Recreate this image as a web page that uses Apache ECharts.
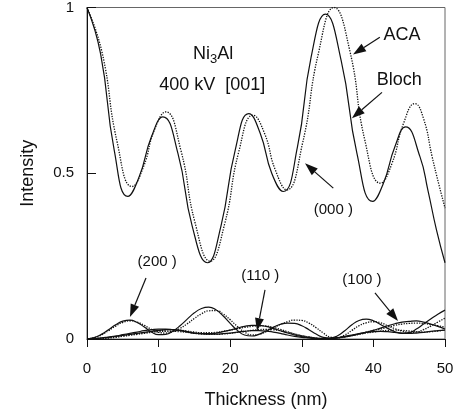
<!DOCTYPE html>
<html lang="en">
<head>
    <meta charset="UTF-8">
    <title>Ni3Al intensity</title>
    <style>
        html,body{margin:0;padding:0;background:#fff;}
        #chart{width:458px;height:417px;}
    </style>
</head>
<body>
<div id="chart"></div>
<script src="https://cdn.jsdelivr.net/npm/echarts@6/dist/echarts.min.js"></script>
<script>
    // thickness grid (nm) for the weak beams
    let thickness = [];
    for (let i = 0; i <= 50; i++) thickness.push(i);

    let xTicks = [0, 10, 20, 30, 40, 50];
    let yTicks = [0, 0.5, 1];

    // (000) beam, read at its turning points and between them
    let tBloch000 = [0,1.9,3.8,5.7,7.3,9.0,10.6,12.7,14.7,16.8,18.7,20.7,22.6,24.2,25.8,27.4,29.4,31.3,33.3,35.5,37.7,39.9,
        41.4,43.0,44.5,46.5,47.6,48.8,50];
    let bloch000 = [1.0,0.86,0.57,0.43,0.49,0.61,0.67,0.56,0.34,0.23,0.34,0.57,0.68,0.62,0.50,0.445,0.58,0.85,0.98,0.84,0.56,0.415,
        0.47,0.58,0.64,0.55,0.45,0.33,0.23];
    let tAca000 = [0,2.1,4.2,6.3,7.9,9.4,11.0,13.1,15.1,17.2,19.2,21.2,23.2,24.8,26.3,27.9,30.1,32.3,34.5,36.7,38.8,41.0,
        42.6,44.2,45.8,47.0,48.2,49.1,50];
    let aca000 = [1.0,0.865,0.595,0.46,0.52,0.63,0.685,0.57,0.35,0.235,0.345,0.565,0.675,0.62,0.51,0.45,0.59,0.86,1.0,0.87,0.60,0.47,
        0.53,0.65,0.71,0.665,0.55,0.47,0.395];

    // (200) beam
    let bloch200 = [0,0.004,0.014,0.028,0.043,0.054,0.057,0.05,0.036,0.021,0.013,0.014,0.024,0.04,0.06,0.079,0.092,0.096,0.088,0.07,
        0.047,0.026,0.012,0.009,0.014,0.024,0.035,0.044,0.048,0.047,0.04,0.028,0.015,0.005,0.003,0.01,0.025,0.043,0.056,0.06,
        0.055,0.044,0.032,0.022,0.017,0.019,0.03,0.045,0.06,0.075,0.087];
    let aca200 = [0,0.004,0.012,0.025,0.039,0.05,0.055,0.051,0.041,0.029,0.02,0.018,0.022,0.032,0.046,0.062,0.076,0.085,0.086,0.076,
        0.058,0.038,0.021,0.012,0.014,0.022,0.033,0.044,0.052,0.057,0.056,0.048,0.034,0.018,0.006,0.004,0.012,0.026,0.04,0.049,
        0.052,0.049,0.04,0.031,0.024,0.02,0.021,0.028,0.039,0.051,0.063];

    // (110) beam
    let bloch110 = [0,0.001,0.003,0.005,0.008,0.011,0.014,0.017,0.02,0.023,0.026,0.028,0.028,0.026,0.022,0.018,0.016,0.016,0.018,0.022,
        0.027,0.033,0.038,0.041,0.041,0.038,0.032,0.025,0.018,0.012,0.007,0.004,0.002,0.001,0.002,0.004,0.008,0.012,0.016,0.02,
        0.022,0.023,0.022,0.02,0.018,0.017,0.018,0.02,0.023,0.025,0.027];
    let aca110 = [0,0.001,0.002,0.004,0.007,0.01,0.013,0.016,0.019,0.022,0.025,0.027,0.028,0.027,0.024,0.021,0.019,0.019,0.02,0.023,
        0.027,0.031,0.035,0.038,0.04,0.039,0.035,0.029,0.022,0.015,0.01,0.006,0.003,0.002,0.002,0.003,0.006,0.01,0.014,0.018,
        0.021,0.024,0.026,0.027,0.026,0.024,0.022,0.021,0.022,0.024,0.027];

    // (100) beam
    let bloch100 = [0,0.001,0.003,0.006,0.009,0.013,0.017,0.021,0.025,0.028,0.03,0.03,0.028,0.025,0.021,0.018,0.016,0.015,0.015,0.016,
        0.018,0.021,0.023,0.025,0.025,0.024,0.021,0.017,0.012,0.008,0.005,0.003,0.001,0.001,0.001,0.003,0.006,0.01,0.015,0.02,
        0.026,0.033,0.04,0.046,0.051,0.053,0.0545,0.051,0.045,0.038,0.03];
    let aca100 = [0,0.001,0.002,0.003,0.005,0.008,0.011,0.014,0.017,0.02,0.022,0.023,0.023,0.022,0.02,0.017,0.015,0.014,0.014,0.015,
        0.017,0.02,0.023,0.026,0.028,0.029,0.028,0.025,0.02,0.015,0.01,0.006,0.003,0.002,0.002,0.004,0.007,0.011,0.016,0.021,
        0.026,0.03,0.036,0.041,0.045,0.047,0.048,0.047,0.044,0.04,0.036];

    // labels and arrows, in data coordinates
    let labels = [
        {text: '400 kV  [001]', at: [17.5, 0.765], size: 18},
        {text: 'ACA', at: [44.0, 0.916], size: 18},
        {text: 'Bloch', at: [43.6, 0.78], size: 18},
        {text: '(000 )', at: [34.4, 0.389], size: 15},
        {text: '(200 )', at: [9.8, 0.232], size: 15},
        {text: '(110 )', at: [24.2, 0.19], size: 15},
        {text: '(100 )', at: [38.4, 0.178], size: 15}
    ];
    let arrows = [
        [[40.9, 0.91], [37.15, 0.858]],
        [[41.2, 0.744], [37.0, 0.666]],
        [[34.4, 0.455], [30.45, 0.53]],
        [[8.24, 0.184], [6.0, 0.066]],
        [[24.86, 0.148], [23.74, 0.024]],
        [[40.22, 0.139], [43.44, 0.054]]
    ];

    let font = '"Liberation Sans", Arial, sans-serif';

    function pairs(xs, ys){
        return ys.map(function (v, i) { return [xs[i], v]; });
    }

    function curve(name, xs, ys, dotted){
        return {
            name: name,
            type: 'line',
            data: pairs(xs, ys),
            smooth: 0.5,
            showSymbol: false,
            symbol: 'none',
            silent: true,
            lineStyle: {color: '#111', width: dotted ? 1.3 : 1.2, type: dotted ? 'dotted' : 'solid'}
        };
    }

    let myChart = echarts.init(document.getElementById('chart'));
    let option = {
        animation: false,
        grid: {left: 87, right: 13, top: 7, bottom: 78, show: true, borderColor: '#666', borderWidth: 1},
        xAxis: {
            type: 'value',
            min: 0,
            max: 50,
            interval: 10,
            name: 'Thickness (nm)',
            nameLocation: 'middle',
            nameGap: 52,
            nameTextStyle: {color: '#111', fontSize: 18, fontFamily: font},
            axisLine: {lineStyle: {color: '#111', width: 1}},
            axisTick: {show: true, inside: false, length: 8, lineStyle: {color: '#111'}},
            axisLabel: {
                margin: 22, color: '#111', fontSize: 15, fontFamily: font,
                customValues: xTicks
            },
            splitLine: {show: false}
        },
        yAxis: {
            type: 'value',
            min: 0,
            max: 1,
            interval: 0.5,
            name: 'Intensity',
            nameLocation: 'middle',
            nameGap: 50,
            nameTextStyle: {color: '#111', fontSize: 18, fontFamily: font},
            axisLine: {show: true, lineStyle: {color: '#111', width: 1}},
            axisTick: {show: true, inside: true, length: 9, lineStyle: {color: '#111'}},
            axisLabel: {
                margin: 13, color: '#111', fontSize: 15, fontFamily: font,
                formatter: function (v) { return yTicks.indexOf(v) >= 0 ? String(v) : ''; }
            },
            splitLine: {show: false}
        },
        series: [
            curve('Bloch (000)', tBloch000, bloch000, false),
            curve('ACA (000)', tAca000, aca000, true),
            curve('Bloch (200)', thickness, bloch200, false),
            curve('ACA (200)', thickness, aca200, true),
            curve('Bloch (110)', thickness, bloch110, false),
            curve('ACA (110)', thickness, aca110, true),
            curve('Bloch (100)', thickness, bloch100, false),
            curve('ACA (100)', thickness, aca100, true)
        ]
    };
    myChart.setOption(option);

    // annotations are placed after the grid exists
    let els = [];
    labels.forEach(function (l) {
        let p = myChart.convertToPixel({gridIndex: 0}, l.at);
        els.push({
            type: 'text', x: p[0], y: p[1], silent: true,
            style: {text: l.text, fill: '#111', font: l.size + 'px ' + font, align: 'center', verticalAlign: 'middle'}
        });
    });

    let ni = myChart.convertToPixel({gridIndex: 0}, [17.6, 0.87]);
    els.push({
        type: 'text', x: ni[0], y: ni[1] + 5, silent: true,
        style: {
            text: '{a|Ni}{b|3}{a|Al}',
            align: 'center', verticalAlign: 'middle',
            rich: {
                a: {fontSize: 18, fontFamily: font, fill: '#111', lineHeight: 21, verticalAlign: 'top'},
                b: {fontSize: 13, fontFamily: font, fill: '#111', lineHeight: 15, verticalAlign: 'bottom', padding: [12, 0, 0, 0]}
            }
        }
    });

    arrows.forEach(function (a) {
        let p1 = myChart.convertToPixel({gridIndex: 0}, a[0]);
        let p2 = myChart.convertToPixel({gridIndex: 0}, a[1]);
        let dx = p2[0] - p1[0], dy = p2[1] - p1[1];
        let len = Math.sqrt(dx * dx + dy * dy);
        let ux = dx / len, uy = dy / len;
        let hl = 13, hw = 4.5;
        let bx = p2[0] - ux * hl, by = p2[1] - uy * hl;
        els.push({
            type: 'line', silent: true,
            shape: {x1: p1[0], y1: p1[1], x2: bx, y2: by},
            style: {stroke: '#111', lineWidth: 1.2}
        });
        els.push({
            type: 'polygon', silent: true,
            shape: {points: [[p2[0], p2[1]], [bx - uy * hw, by + ux * hw], [bx + uy * hw, by - ux * hw]]},
            style: {fill: '#111'}
        });
    });

    myChart.setOption({graphic: els});
</script>
</body>
</html>
